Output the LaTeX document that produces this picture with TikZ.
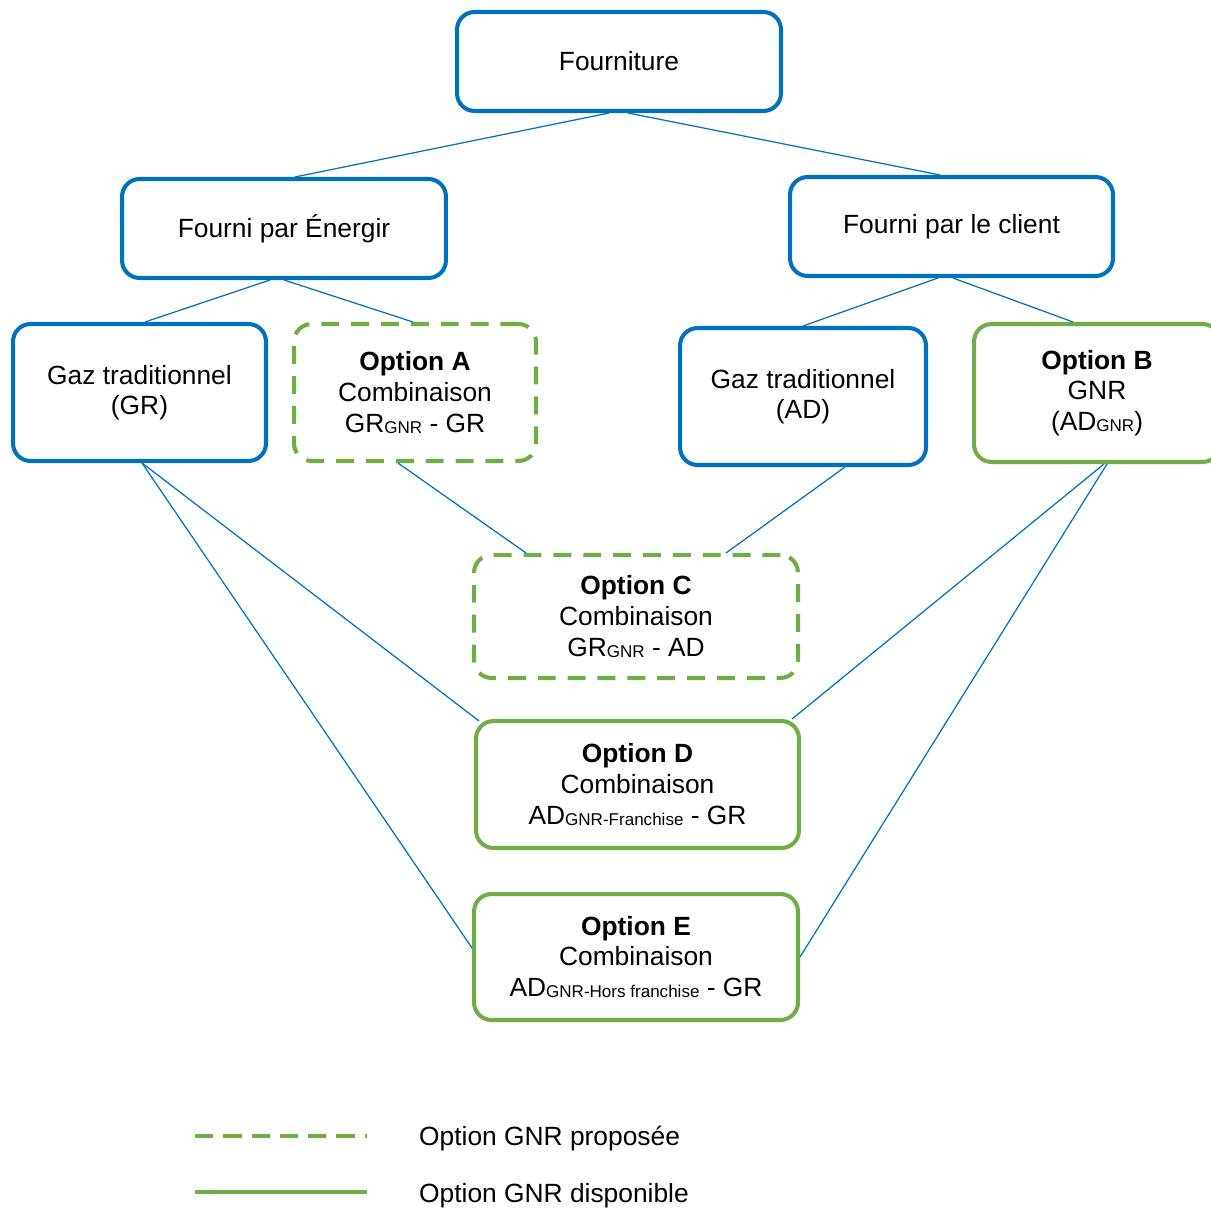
\documentclass[tikz,border=0pt]{standalone}
\usepackage{fontspec}
\setmainfont{Liberation Sans}
\definecolor{supplyblue}{RGB}{0,112,192}
\definecolor{gnrgreen}{RGB}{112,173,71}
\newcommand{\gnrsub}[1]{\raisebox{-0.6pt}{\fontsize{9.7}{11}\selectfont #1}}

\begin{document}
\begin{tikzpicture}[x=0.02cm, y=-0.02cm,
  box/.style={rectangle, rounded corners=10pt, line width=2.3pt, inner sep=0pt,
    align=center, font=\fontsize{15}{17.4}\selectfont},
  bluebox/.style={box, draw=supplyblue},
  greenbox/.style={box, draw=gnrgreen},
  dashbox/.style={box, draw=gnrgreen, dash pattern=on 10.2pt off 6.8pt},
  link/.style={draw=supplyblue, line width=0.7pt},
  legtext/.style={anchor=west, font=\fontsize{15}{17.4}\selectfont}]
  \useasboundingbox (0,0) rectangle (1210,1212);
  \node[bluebox, minimum width=6.48cm, minimum height=1.98cm] (fourniture) at (619,61.5) {Fourniture};
  \node[bluebox, minimum width=6.48cm, minimum height=1.98cm] (energir) at (284,228.5) {Fourni par Énergir};
  \node[bluebox, minimum width=6.46cm, minimum height=1.98cm] (client) at (951.5,226.5) {Fourni par le client};
  \node[bluebox, minimum width=5.06cm, minimum height=2.74cm] (gr) at (139.5,392.5) {Gaz traditionnel\\(GR)};
  \node[dashbox, minimum width=4.84cm, minimum height=2.74cm] (optA) at (415,392.5) {\textbf{Option A}\\Combinaison\\GR\gnrsub{GNR} - GR};
  \node[bluebox, minimum width=4.92cm, minimum height=2.74cm] (ad) at (803,396.5) {Gaz traditionnel\\(AD)};
  \node[greenbox, minimum width=4.92cm, minimum height=2.76cm] (optB) at (1097,393) {\textbf{Option B}\\GNR\\(AD\gnrsub{GNR})};
  \node[dashbox, minimum width=6.48cm, minimum height=2.46cm] (optC) at (636,616.5) {\textbf{Option C}\\Combinaison\\GR\gnrsub{GNR} - AD};
  \node[greenbox, minimum width=6.46cm, minimum height=2.54cm] (optD) at (637.5,784.5) {\textbf{Option D}\\Combinaison\\AD\gnrsub{GNR-Franchise} - GR};
  \node[greenbox, minimum width=6.48cm, minimum height=2.52cm] (optE) at (636,957) {\textbf{Option E}\\Combinaison\\AD\gnrsub{GNR-Hors franchise} - GR};
  \draw[link] ([xshift=-0.2cm]fourniture.south) -- ([xshift=0.22cm]energir.north);
  \draw[link] ([xshift=0.18cm]fourniture.south) -- ([xshift=-0.23cm]client.north);
  \draw[link] ([xshift=-0.28cm]energir.south) -- ([xshift=0.11cm]gr.north);
  \draw[link] (energir.south) -- ([xshift=-0.04cm]optA.north);
  \draw[link] ([xshift=-0.27cm]client.south) -- (ad.north);
  \draw[link] ([xshift=0.03cm]client.south) -- ([xshift=-0.48cm]optB.north);
  \draw[link] ([xshift=-0.34cm]optA.south) -- ([xshift=-2.2cm]optC.north);
  \draw[link] ([xshift=0.84cm]ad.south) -- ([xshift=1.8cm]optC.north);
  \draw[link] ([xshift=0.05cm]gr.south) -- ([xshift=0.1cm,yshift=-0.04cm]optD.north west);
  \draw[link] ([xshift=0.05cm]gr.south) -- ([yshift=0.18cm]optE.west);
  \draw[link] ([xshift=0.14cm]optB.south) -- ([xshift=-0.18cm]optD.north east);
  \draw[link] ([xshift=0.2cm]optB.south) -- (optE.east);
  \coordinate (dashA) at (195,1136);
  \coordinate (dashB) at (367,1136);
  \coordinate (fullA) at (195,1192);
  \coordinate (fullB) at (367,1192);
  \draw[gnrgreen, line width=2.3pt, dash pattern=on 10.4pt off 5.7pt] (dashA) -- (dashB);
  \draw[gnrgreen, line width=2.3pt] (fullA) -- (fullB);
  \node[legtext] (legdash) at (413,1139) {Option GNR proposée};
  \node[legtext] (legfull) at (413,1196) {Option GNR disponible};
\end{tikzpicture}
\end{document}
